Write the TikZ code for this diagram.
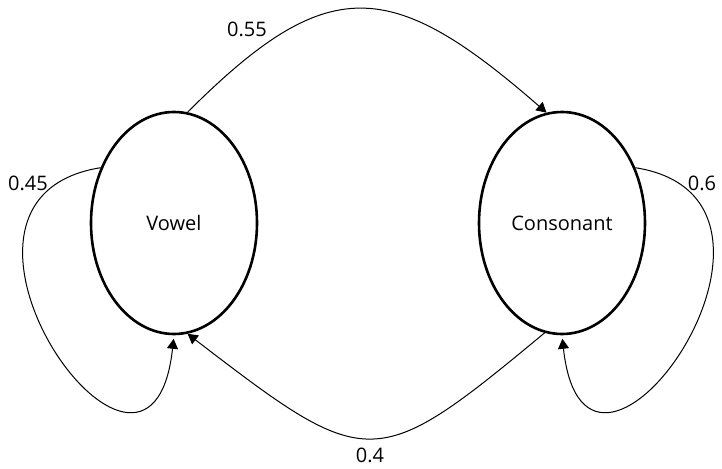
\documentclass[tikz,border=0pt]{standalone}
\usepackage{fontspec}
\setmainfont{Open Sans}
\usetikzlibrary{arrows.meta,shapes.geometric}
\begin{document}
\begin{tikzpicture}[x=1pt,y=-1pt,
  state/.style={ellipse,draw,line width=2.6pt,minimum width=166pt,minimum height=222pt,inner sep=0pt,font=\fontsize{20}{24}\selectfont},
  trans/.style={line width=1pt,-{Triangle[length=10pt,width=11pt]}},
  prob/.style={font=\fontsize{20}{24}\selectfont,inner sep=0pt}]
\useasboundingbox (0,0) rectangle (722,468);
\node[state] (V) at (174,223) {Vowel};
\node[state] (C) at (562,223) {Consonant};
% transitions between the two states
\draw[trans] (V.83) .. controls +(140,-140) and +(-156,-136) .. (C.98);
\draw[trans] (C.261) .. controls +(-170,141) and +(181,139) .. (V.277);
% self loops
\draw[trans,shorten >=3.5pt] (V.143) .. controls +(-202,32) and +(-24,220) .. (V.south);
\draw[trans,shorten >=3.5pt] (C.37) .. controls +(202,32) and +(24,220) .. (C.south);
% probabilities
\node[prob] (pVC) at (247,29) {0.55};
\node[prob] (pCV) at (370,455) {0.4};
\node[prob] (pVV) at (28,183) {0.45};
\node[prob] (pCC) at (702,183) {0.6};
\end{tikzpicture}
\end{document}
